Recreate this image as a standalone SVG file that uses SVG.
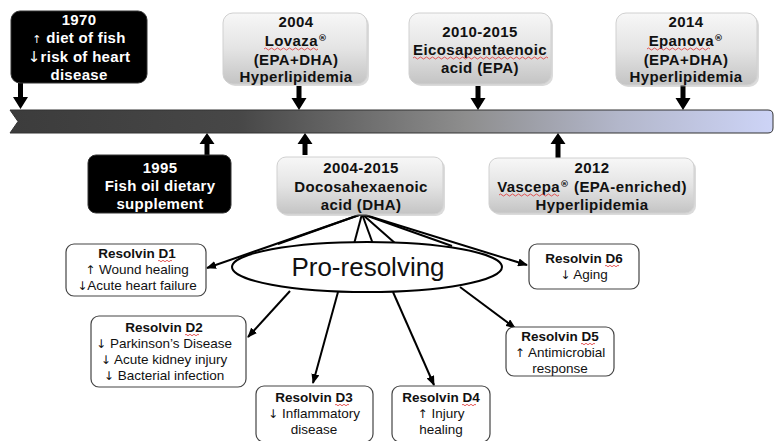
<svg xmlns="http://www.w3.org/2000/svg" width="775" height="441" viewBox="0 0 775 441">
<defs>
<linearGradient id="bar" x1="0" y1="0" x2="1" y2="0">
<stop offset="0" stop-color="#3c3c3c"/>
<stop offset="0.3" stop-color="#474747"/>
<stop offset="0.6" stop-color="#8e8e8e"/>
<stop offset="0.8" stop-color="#b3b7cb"/>
<stop offset="1" stop-color="#cdd4f7"/>
</linearGradient>
<linearGradient id="gbox" x1="0" y1="0" x2="0" y2="1">
<stop offset="0" stop-color="#f7f7f7"/>
<stop offset="0.5" stop-color="#e4e4e4"/>
<stop offset="1" stop-color="#c4c4c4"/>
</linearGradient>
<marker id="ah" markerWidth="10" markerHeight="8" refX="9" refY="4" orient="auto" markerUnits="userSpaceOnUse">
<path d="M0,0 L10,4 L0,8 Z" fill="#000"/>
</marker>
</defs>
<style>
.blk{fill:#000;stroke:#333;stroke-width:1}
.gry{fill:url(#gbox);stroke:#d0d0d0;stroke-width:1}
.shd{fill:#999;opacity:0.35}
.wt{font-family:"Liberation Sans",Arial,sans-serif;font-weight:bold;font-size:15px;letter-spacing:0.3px;fill:#fff;text-anchor:middle}
.bt{font-family:"Liberation Sans",Arial,sans-serif;font-weight:bold;font-size:15px;letter-spacing:0.4px;fill:#111;text-anchor:middle}
.rb{fill:#fff;stroke:#444;stroke-width:1.2}
.rt{font-family:"Liberation Sans",Arial,sans-serif;font-size:13.5px;fill:#111;text-anchor:middle}
.rh{font-weight:bold}
.ar{font-family:"DejaVu Sans",sans-serif;font-weight:normal}
.rg{font-family:"DejaVu Sans",sans-serif;font-size:9px}
.ln{stroke:#000;stroke-width:2;fill:none}
.sq{stroke:#e03030;stroke-width:0.8;fill:none}
.arr{fill:#000}
</style>

<g id="timeline">
<path d="M10,110 L768,110 Q773,110 773,115 L773,128 Q773,133 768,133 L10,133 L18,121.5 Z" fill="url(#bar)" stroke="#333" stroke-width="1"/>
</g>

<g id="connectors">
<path class="arr" d="M18,83 L23,83 L23,97 L28,97 L20.5,109 L13,97 L18,97 Z"/>
<path class="arr" d="M296.5,86 L301.5,86 L301.5,98 L306.5,98 L299,110 L291.5,98 L296.5,98 Z"/>
<path class="arr" d="M475.5,86 L480.5,86 L480.5,98 L485.5,98 L478,110 L470.5,98 L475.5,98 Z"/>
<path class="arr" d="M680.5,85 L685.5,85 L685.5,98 L690.5,98 L683,110 L675.5,98 L680.5,98 Z"/>
<path class="arr" d="M204.5,155 L209.5,155 L209.5,144 L214.5,144 L207,133 L199.5,144 L204.5,144 Z"/>
<path class="arr" d="M302.5,155 L307.5,155 L307.5,144 L312.5,144 L305,133 L297.5,144 L302.5,144 Z"/>
<path class="arr" d="M555.5,158 L560.5,158 L560.5,144 L565.5,144 L558,133 L550.5,144 L555.5,144 Z"/>
<line class="ln" x1="362" y1="214" x2="207" y2="268" marker-end="url(#ah)"/>
<line class="ln" x1="362" y1="214" x2="527" y2="265" marker-end="url(#ah)"/>
<line class="ln" x1="362" y1="214" x2="278" y2="244"/>
<line class="ln" x1="362" y1="214" x2="354" y2="244"/>
<line class="ln" x1="362" y1="214" x2="373" y2="244"/>
<line class="ln" x1="362" y1="214" x2="396" y2="244"/>
<line class="ln" x1="362" y1="214" x2="452" y2="246"/>
<line class="ln" x1="290" y1="291" x2="248" y2="337" marker-end="url(#ah)"/>
<line class="ln" x1="338" y1="292" x2="313" y2="383" marker-end="url(#ah)"/>
<line class="ln" x1="393" y1="292" x2="434" y2="385" marker-end="url(#ah)"/>
<line class="ln" x1="460" y1="287" x2="515" y2="328" marker-end="url(#ah)"/>
</g>

<g id="pro-resolving">
<ellipse cx="367" cy="267" rx="135" ry="25" fill="#fff" stroke="#000" stroke-width="2"/>
<text x="368" y="276" font-family="Liberation Sans, Arial, sans-serif" font-size="26" fill="#111" text-anchor="middle">Pro-resolving</text>
</g>

<g id="n1970">
<rect class="blk" x="11" y="11" width="136" height="72" rx="9"/>
<text class="wt" x="79" y="25">1970</text>
<text class="wt" x="79" y="43"><tspan class="ar" font-size="11">↑</tspan> diet of fish</text>
<text class="wt" x="79" y="62"><tspan class="ar" font-size="15">↓</tspan>risk of heart</text>
<text class="wt" x="79" y="80">disease</text>
</g>

<g id="n2004">
<rect class="shd" x="225" y="15" width="144" height="71" rx="10"/>
<rect class="gry" x="223" y="13" width="144" height="71" rx="10"/>
<text class="bt" x="296" y="27">2004</text>
<text class="bt" x="296" y="46">Lovaza<tspan class="rg" dy="-5">®</tspan></text>
<text class="bt" x="296" y="65">(EPA+DHA)</text>
<text class="bt" x="296" y="82">Hyperlipidemia</text>
<path class="sq" d="M264,49 q1.5,-2 3,0 t3,0 t3,0 t3,0 t3,0 t3,0 t3,0 t3,0 t3,0 t3,0 t3,0 t3,0 t3,0 t3,0 t3,0 t3,0 t3,0 t3,0"/>
</g>

<g id="n2010">
<rect class="shd" x="411" y="15" width="142" height="71" rx="10"/>
<rect class="gry" x="409" y="13" width="142" height="71" rx="10"/>
<text class="bt" x="480" y="37">2010-2015</text>
<text class="bt" x="480" y="55">Eicosapentaenoic</text>
<text class="bt" x="480" y="73">acid (EPA)</text>
<path class="sq" d="M413,58 q1.5,-2 3,0 t3,0 t3,0 t3,0 t3,0 t3,0 t3,0 t3,0 t3,0 t3,0 t3,0 t3,0 t3,0 t3,0 t3,0 t3,0 t3,0 t3,0 t3,0 t3,0 t3,0 t3,0 t3,0 t3,0 t3,0 t3,0 t3,0 t3,0 t3,0 t3,0 t3,0 t3,0 t3,0 t3,0 t3,0 t3,0 t3,0 t3,0 t3,0 t3,0 t3,0 t3,0 t3,0 t3,0 t3,0"/>
</g>

<g id="n2014">
<rect class="shd" x="618" y="15" width="141" height="72" rx="10"/>
<rect class="gry" x="616" y="13" width="141" height="72" rx="10"/>
<text class="bt" x="686" y="27">2014</text>
<text class="bt" x="686" y="46">Epanova<tspan class="rg" dy="-5">®</tspan></text>
<text class="bt" x="686" y="65">(EPA+DHA)</text>
<text class="bt" x="686" y="82">Hyperlipidemia</text>
<path class="sq" d="M647,49 q1.5,-2 3,0 t3,0 t3,0 t3,0 t3,0 t3,0 t3,0 t3,0 t3,0 t3,0 t3,0 t3,0 t3,0 t3,0 t3,0 t3,0 t3,0 t3,0 t3,0 t3,0 t3,0"/>
</g>

<g id="n1995">
<rect class="blk" x="88" y="155" width="143" height="58" rx="8"/>
<text class="wt" x="160" y="173">1995</text>
<text class="wt" x="160" y="191">Fish oil dietary</text>
<text class="wt" x="160" y="209">supplement</text>
</g>

<g id="n2004b">
<rect class="shd" x="279" y="159" width="166" height="57" rx="9"/>
<rect class="gry" x="277" y="157" width="166" height="57" rx="9"/>
<text class="bt" x="361" y="173">2004-2015</text>
<text class="bt" x="361" y="192">Docosahexaenoic</text>
<text class="bt" x="361" y="210">acid (DHA)</text>
</g>

<g id="n2012">
<rect class="shd" x="491" y="160" width="205" height="55" rx="9"/>
<rect class="gry" x="489" y="158" width="205" height="55" rx="9"/>
<text class="bt" x="592" y="173">2012</text>
<text class="bt" x="592" y="192">Vascepa<tspan class="rg" dy="-5">®</tspan><tspan dy="5"> (EPA-enriched)</tspan></text>
<text class="bt" x="592" y="210">Hyperlipidemia</text>
<path class="sq" d="M499,195 q1.5,-2 3,0 t3,0 t3,0 t3,0 t3,0 t3,0 t3,0 t3,0 t3,0 t3,0 t3,0 t3,0 t3,0 t3,0 t3,0 t3,0 t3,0 t3,0 t3,0 t3,0"/>
</g>

<g id="d1">
<rect class="rb" x="66" y="244" width="140" height="52" rx="8"/>
<text class="rt rh" x="137" y="258">Resolvin  D1</text>
<text class="rt" x="137" y="274"><tspan class="ar" font-size="12">↑</tspan> Wound healing</text>
<text class="rt" x="137" y="290"><tspan class="ar" font-size="12">↓</tspan>Acute  heart failure</text>
<path class="sq" d="M158,261 q1,-1.5 2,0 t2,0 t2,0 t2,0 t2,0 t2,0 t2,0"/>
</g>

<g id="d2">
<rect class="rb" x="91" y="316" width="155" height="71" rx="8"/>
<text class="rt rh" x="164" y="332">Resolvin  D2</text>
<text class="rt" x="164" y="348"><tspan class="ar" font-size="12">↓</tspan> Parkinson’s Disease</text>
<text class="rt" x="164" y="364"><tspan class="ar" font-size="12">↓</tspan>  Acute  kidney injury</text>
<text class="rt" x="164" y="380"><tspan class="ar" font-size="12">↓</tspan>  Bacterial infection</text>
<path class="sq" d="M185,335 q1,-1.5 2,0 t2,0 t2,0 t2,0 t2,0 t2,0 t2,0"/>
</g>

<g id="d3">
<rect class="rb" x="256" y="386" width="117" height="56" rx="8"/>
<text class="rt rh" x="314" y="402">Resolvin  D3</text>
<text class="rt" x="314" y="418"><tspan class="ar" font-size="12">↓</tspan>  Inflammatory</text>
<text class="rt" x="314" y="434">disease</text>
<path class="sq" d="M335,405 q1,-1.5 2,0 t2,0 t2,0 t2,0 t2,0 t2,0 t2,0"/>
</g>

<g id="d4">
<rect class="rb" x="392" y="386" width="98" height="56" rx="8"/>
<text class="rt rh" x="441" y="402">Resolvin  D4</text>
<text class="rt" x="441" y="418"><tspan class="ar" font-size="12">↑</tspan> Injury</text>
<text class="rt" x="441" y="434">healing</text>
<path class="sq" d="M462,405 q1,-1.5 2,0 t2,0 t2,0 t2,0 t2,0 t2,0 t2,0"/>
</g>

<g id="d5">
<rect class="rb" x="506" y="327" width="108" height="49" rx="8"/>
<text class="rt rh" x="560" y="341">Resolvin  D5</text>
<text class="rt" x="560" y="357"><tspan class="ar" font-size="12">↑</tspan> Antimicrobial</text>
<text class="rt" x="560" y="373">response</text>
<path class="sq" d="M581,344 q1,-1.5 2,0 t2,0 t2,0 t2,0 t2,0 t2,0 t2,0"/>
</g>

<g id="d6">
<rect class="rb" x="529" y="244" width="110" height="45" rx="8"/>
<text class="rt rh" x="584" y="263">Resolvin  D6</text>
<text class="rt" x="584" y="279"><tspan class="ar" font-size="12">↓</tspan> Aging</text>
<path class="sq" d="M605,266 q1,-1.5 2,0 t2,0 t2,0 t2,0 t2,0 t2,0 t2,0"/>
</g>
</svg>
